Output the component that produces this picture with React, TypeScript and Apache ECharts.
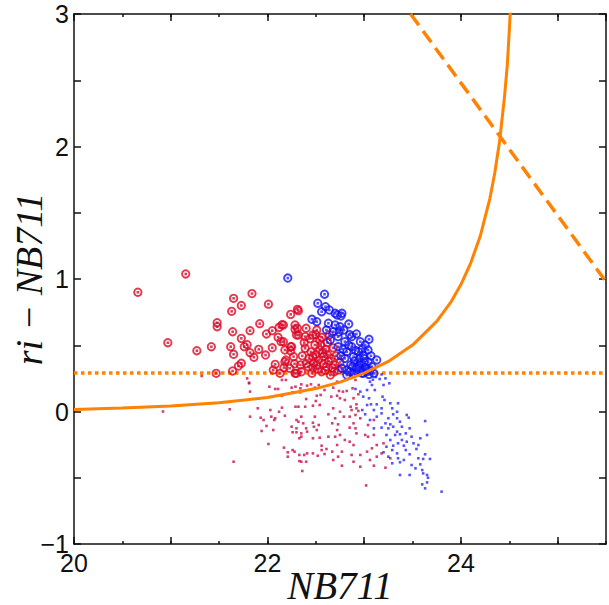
import React, { useEffect, useRef } from 'react';
import * as echarts from 'echarts';

const xMin = 20;
const xMax = 25.5;
const yMin = -1;
const yMax = 3;
const xLabelValues = [20, 22, 24];
const yLabelValues = [-1, 0, 1, 2, 3];
const xTitle = 'NB711';
const yTitle = 'ri \u2212 NB711';

const colorCut = 0.29;
const dashedCut: [number, number][] = [[23.48, 3], [25.5, 0.98]];
const limitCurve: [number, number][] = [
  [20, 0.016], [20.5, 0.026], [21, 0.041], [21.5, 0.066], [22, 0.106], [22.5, 0.173],
  [22.75, 0.222], [23, 0.289], [23.25, 0.378], [23.5, 0.501], [23.75, 0.68], [23.9, 0.83],
  [24, 0.958], [24.1, 1.118], [24.2, 1.324], [24.3, 1.609], [24.35, 1.8], [24.4, 2.04],
  [24.45, 2.369], [24.48, 2.62], [24.5, 2.872], [24.51, 3.012],
];

const redCircles: [number, number][] = [
  [20.66, 0.9], [21.155, 1.038], [21.84, 0.89], [21.65, 0.854], [21.73, 0.8], [22.01, 0.81],
  [21.63, 0.756], [22.24, 0.733], [22.31, 0.771], [21.48, 0.67], [21.48, 0.64], [21.92, 0.663],
  [22.15, 0.655], [22.12, 0.635], [22.285, 0.653], [22.285, 0.62], [21.64, 0.602], [21.82, 0.61],
  [21.99, 0.585], [22.05, 0.61], [22.11, 0.56], [22.3, 0.577], [21.73, 0.552], [22.14, 0.527],
  [20.97, 0.519], [21.42, 0.489], [21.27, 0.459], [21.62, 0.489], [21.65, 0.432], [21.76, 0.489],
  [21.79, 0.504], [21.82, 0.444], [21.91, 0.469], [21.86, 0.409], [21.98, 0.426], [22.05, 0.481],
  [22.24, 0.489], [22.24, 0.457], [22.19, 0.389], [21.73, 0.364], [21.7, 0.343], [22.08, 0.356],
  [22.06, 0.313], [22.17, 0.331], [21.47, 0.288], [21.64, 0.306], [22.13, 0.288], [22.3, 0.288],
  [22.32, 0.761], [22.165, 0.653], [22.31, 0.628], [22.4, 0.628], [22.32, 0.577], [22.39, 0.565],
  [22.47, 0.577], [22.165, 0.527], [22.25, 0.489], [22.39, 0.477], [22.49, 0.502], [22.54, 0.464],
  [22.47, 0.414], [22.58, 0.414], [22.66, 0.401], [22.27, 0.414], [22.18, 0.376], [22.34, 0.351],
  [22.42, 0.338], [22.51, 0.351], [22.61, 0.338], [22.7, 0.351], [22.73, 0.313], [22.56, 0.3],
  [22.46, 0.288], [22.285, 0.288], [22.65, 0.275], [22.23, 0.326], [22.18, 0.464], [22.54, 0.54],
  [22.51, 0.615], [22.45, 0.45], [22.5, 0.43], [22.55, 0.5], [22.6, 0.47], [22.62, 0.52],
  [22.48, 0.37], [22.53, 0.39], [22.58, 0.36], [22.63, 0.38], [22.67, 0.33], [22.52, 0.32],
  [22.57, 0.44], [22.43, 0.4], [22.47, 0.33], [22.6, 0.31], [22.69, 0.3], [22.62, 0.43],
  [22.44, 0.55], [22.5, 0.58], [22.56, 0.56], [22.36, 0.42], [22.4, 0.36], [22.35, 0.3],
  [22.38, 0.52], [22.28, 0.36], [22.71, 0.42], [22.68, 0.48], [22.75, 0.37], [22.64, 0.58],
];

const blueCircles: [number, number][] = [
  [22.21, 1.007], [22.59, 0.885], [22.52, 0.817], [22.6, 0.791], [22.64, 0.766], [22.56, 0.753],
  [22.7, 0.741], [22.77, 0.741], [22.76, 0.721], [22.72, 0.728], [22.51, 0.678], [22.46, 0.696],
  [22.63, 0.666], [22.7, 0.653], [22.75, 0.64], [22.84, 0.66], [22.61, 0.615], [22.68, 0.602],
  [22.79, 0.615], [22.92, 0.585], [22.87, 0.565], [23.05, 0.545], [22.73, 0.565], [22.65, 0.54],
  [22.8, 0.527], [22.96, 0.527], [23.01, 0.502], [22.87, 0.489], [22.73, 0.489], [23.04, 0.464],
  [22.82, 0.451], [22.94, 0.451], [23.13, 0.389], [22.99, 0.426], [22.89, 0.414], [22.8, 0.401],
  [23.04, 0.376], [22.96, 0.364], [22.86, 0.351], [22.92, 0.326], [23.01, 0.334], [23.08, 0.338],
  [22.82, 0.313], [22.77, 0.326], [22.98, 0.288], [22.89, 0.288], [23.02, 0.3], [22.82, 0.275],
  [23.1, 0.288], [22.9, 0.38], [22.95, 0.4], [23.0, 0.37], [22.94, 0.33], [22.97, 0.31],
  [23.03, 0.32], [23.06, 0.31], [22.93, 0.3], [22.85, 0.3], [22.88, 0.34], [22.91, 0.46],
  [22.84, 0.5], [22.78, 0.47], [22.76, 0.42], [22.98, 0.47], [23.07, 0.42], [22.85, 0.58],
  [22.74, 0.6], [22.95, 0.35], [23.0, 0.4], [22.99, 0.29], [23.05, 0.28], [22.9, 0.29],
];

const redDots: [number, number][] = [
  [21.81, 0.217], [21.82, 0.15], [22.02, 0.187], [22.08, 0.17], [22.11, 0.17], [22.15, 0.238],
  [22.19, 0.238], [22.25, 0.18], [22.29, 0.187], [22.34, 0.175], [22.35, 0.205], [22.41, 0.195],
  [22.45, 0.205], [22.49, 0.18], [22.53, 0.2], [22.26, 0.145], [22.34, 0.145], [22.15, 0.119],
  [22.4, 0.094], [22.51, 0.119], [22.55, 0.125], [22.59, 0.162], [22.5, 0.079], [22.54, 0.049],
  [21.61, 0.017], [21.9, 0.024], [22.03, 0.011], [22.15, 0.029], [22.29, 0.036], [22.32, 0.036],
  [22.39, 0.036], [22.47, 0.044], [21.82, -0.039], [21.93, -0.047], [21.96, -0.064], [22.04, -0.039],
  [22.08, -0.051], [22.07, -0.064], [22.12, -0.002], [22.18, -0.032], [22.3, -0.064], [22.35, -0.039],
  [22.49, -0.039], [22.63, -0.021], [21.99, -0.109], [21.94, -0.147], [22.06, -0.14], [22.25, -0.115],
  [22.3, -0.127], [22.32, -0.077], [22.37, -0.089], [22.26, -0.157], [22.3, -0.157], [22.35, -0.165],
  [22.41, -0.152], [22.4, -0.127], [22.48, -0.115], [22.47, -0.085], [22.53, -0.102], [22.51, -0.14],
  [22.54, -0.198], [22.47, -0.202], [22.33, -0.202], [22.35, -0.19], [22.63, -0.19], [22.01, -0.245],
  [22.17, -0.273], [22.26, -0.291], [22.28, -0.303], [22.21, -0.308], [22.33, -0.328], [22.38, -0.328],
  [22.41, -0.316], [22.47, -0.316], [22.52, -0.334], [22.56, -0.291], [22.56, -0.258], [22.61, -0.283],
  [22.59, -0.321], [22.21, -0.341], [22.33, -0.374], [22.35, -0.379], [22.4, -0.379], [21.65, -0.379],
  [22.36, -0.449], [22.68, 0.18], [22.74, 0.155], [22.78, 0.15], [22.82, 0.155], [22.66, 0.112],
  [22.72, 0.119], [22.75, 0.1], [22.8, 0.087], [22.88, 0.175], [22.89, 0.1], [22.92, 0.054],
  [22.86, 0.036], [22.94, 0.13], [22.87, 0.011], [22.92, 0.024], [22.94, 0.004], [22.91, -0.026],
  [22.96, -0.051], [22.85, -0.039], [22.68, 0.024], [22.75, -0.002], [22.7, -0.051], [22.79, -0.039],
  [22.67, -0.089], [22.73, -0.097], [22.89, -0.089], [22.85, -0.122], [22.91, -0.127], [22.72, -0.14],
  [22.75, -0.177], [22.7, -0.19], [22.92, -0.165], [23.01, -0.177], [23.04, -0.19], [23.1, -0.177],
  [22.8, -0.215], [22.85, -0.228], [22.89, -0.253], [22.72, -0.253], [22.77, -0.303], [22.67, -0.303],
  [22.73, -0.341], [22.87, -0.328], [22.96, -0.328], [23.03, -0.303], [23.08, -0.278], [23.13, -0.253],
  [23.2, -0.24], [23.18, -0.316], [23.13, -0.341], [23.27, -0.353], [23.06, -0.366], [22.89, -0.379],
  [22.68, -0.366], [22.77, -0.409], [22.96, -0.417], [23.1, -0.409], [23.22, -0.424], [23.02, -0.558],
  [23.1, -0.064], [23.04, -0.102], [22.91, 0.238], [22.72, 0.225], [21.79, 0.25], [21.81, 0.213],
  [21.32, 0.268], [20.92, 0.0],
];

const blueDots: [number, number][] = [
  [23.06, 0.225], [23.16, 0.245], [23.08, 0.2], [23.2, 0.2], [23.26, 0.213], [22.91, 0.17],
  [22.96, 0.15], [23.03, 0.162], [23.11, 0.162], [22.99, 0.112], [23.05, 0.1], [23.19, 0.112],
  [23.21, 0.087], [23.27, 0.062], [23.35, 0.062], [23.07, 0.054], [23.13, 0.054], [23.03, 0.049],
  [22.98, 0.011], [23.1, 0.011], [23.18, 0.024], [23.29, 0.024], [23.18, -0.014], [23.3, -0.021],
  [23.34, -0.002], [23.01, -0.021], [23.13, -0.039], [23.44, -0.026], [23.46, -0.047], [23.06, -0.064],
  [23.25, -0.051], [23.34, -0.051], [23.37, -0.077], [23.22, -0.089], [23.27, -0.097], [23.63, -0.072],
  [23.1, -0.127], [23.18, -0.122], [23.25, -0.127], [23.3, -0.115], [23.39, -0.115], [23.47, -0.127],
  [23.34, -0.152], [23.43, -0.165], [23.23, -0.177], [23.32, -0.177], [23.37, -0.172], [23.49, -0.19],
  [23.58, -0.202], [23.65, -0.177], [23.27, -0.215], [23.39, -0.215], [23.44, -0.228], [23.35, -0.24],
  [23.51, -0.24], [23.56, -0.253], [23.3, -0.258], [23.41, -0.258], [23.23, -0.266], [23.29, -0.291],
  [23.43, -0.291], [23.54, -0.283], [23.2, -0.308], [23.34, -0.316], [23.47, -0.323], [23.63, -0.323],
  [23.25, -0.341], [23.35, -0.353], [23.41, -0.366], [23.56, -0.353], [23.61, -0.358], [23.68, -0.358],
  [23.29, -0.391], [23.37, -0.383], [23.49, -0.404], [23.58, -0.399], [23.53, -0.429], [23.6, -0.442],
  [23.65, -0.479], [23.37, -0.479], [23.47, -0.479], [23.61, -0.467], [23.66, -0.5], [23.65, -0.535],
  [23.6, -0.55], [23.63, -0.58], [23.8, -0.605], [23.12, 0.26], [23.18, 0.28], [23.22, 0.25],
  [23.09, 0.24],
];

const ORANGE = '#FF8200';
const RED = '#E0061E';
const BLUE = '#1010F2';
const RED_DOT = '#C8104E';
const BLUE_DOT = '#2A2AF5';
const AXIS = '#111';

function fmtNum(v: number): string {
  return v < 0 ? '\u2212' + Math.abs(v) : String(v);
}
function near(v: number, list: number[]): number | null {
  for (const t of list) if (Math.abs(v - t) < 1e-6) return t;
  return null;
}

export default function App() {
  const ref = useRef<HTMLDivElement>(null);
  useEffect(() => {
    if (!ref.current) return;
    const chart = echarts.init(ref.current, undefined, { renderer: 'svg' });
    const lineStyle = { color: AXIS, width: 1.5 };
    const xBase = (position: string, interval: number, tickLen: number, showLine: boolean, labels: boolean) => ({
      type: 'value',
      position,
      min: xMin,
      max: xMax,
      interval,
      axisLine: { show: showLine, onZero: false, lineStyle },
      axisTick: { show: true, inside: true, length: tickLen, lineStyle },
      splitLine: { show: false },
      axisLabel: labels
        ? {
            show: true,
            margin: 6,
            fontSize: 25,
            fontFamily: 'Liberation Sans, Arial, sans-serif',
            color: AXIS,
            showMaxLabel: false,
            formatter: (v: number) => {
              const t = near(v, xLabelValues);
              return t === null ? '' : fmtNum(t);
            },
          }
        : { show: false },
    });
    const yBase = (position: string, labels: boolean) => ({
      type: 'value',
      position,
      min: yMin,
      max: yMax,
      interval: 0.5,
      axisLine: { show: true, onZero: false, lineStyle },
      axisTick: { show: true, inside: true, length: 7, lineStyle },
      splitLine: { show: false },
      axisLabel: labels
        ? {
            show: true,
            margin: 5,
            fontSize: 25,
            fontFamily: 'Liberation Sans, Arial, sans-serif',
            color: AXIS,
            formatter: (v: number) => {
              const t = near(v, yLabelValues);
              return t === null ? '' : fmtNum(t);
            },
          }
        : { show: false },
    });
    const titleStyle = {
      fontFamily: 'Liberation Serif, Times New Roman, serif',
      fontStyle: 'italic',
      fontSize: 38,
      color: AXIS,
    };
    const xAxes: any[] = [
      {
        ...xBase('bottom', 1, 7, true, true),
        name: xTitle,
        nameLocation: 'middle',
        nameGap: 26,
        nameMoveOverlap: false,
        nameTextStyle: { ...titleStyle, fontSize: 39, lineHeight: 30 },
      },
      xBase('bottom', 0.5, 3, false, false),
      xBase('top', 1, 7, true, false),
      xBase('top', 0.5, 3, false, false),
    ];
    const yAxes: any[] = [
      {
        ...yBase('left', true),
        name: yTitle,
        nameLocation: 'middle',
        nameGap: 26,
        nameRotate: 90,
        nameMoveOverlap: false,
        nameTextStyle: titleStyle,
      },
      yBase('right', false),
    ];
    const dotSeries = (name: string, data: [number, number][], color: string, z: number) => ({
      name,
      type: 'scatter',
      data,
      symbol: 'rect',
      symbolSize: 2.6,
      itemStyle: { color },
      z,
      silent: true,
    });
    const ringSeries = (name: string, data: [number, number][], color: string, z: number) => ({
      name,
      type: 'scatter',
      data,
      symbol: 'circle',
      symbolSize: 7.4,
      itemStyle: { color: 'rgba(0,0,0,0)', borderColor: color, borderWidth: 1.9 },
      z,
      silent: true,
    });
    chart.setOption({
      animation: false,
      backgroundColor: '#fff',
      grid: { left: 74, right: 3, top: 14, bottom: 61, containLabel: false, outerBoundsMode: 'none' },
      xAxis: xAxes,
      yAxis: yAxes,
      series: [
        {
          name: 'colour cut',
          type: 'line',
          data: [[xMin, colorCut], [xMax, colorCut]],
          showSymbol: false,
          lineStyle: { color: ORANGE, width: 3.5, type: [3.5, 3.5], cap: 'butt' },
          z: 1,
          silent: true,
        },
        dotSeries('red dots', redDots, RED_DOT, 2),
        dotSeries('blue dots', blueDots, BLUE_DOT, 2),
        ringSeries('red circles', redCircles, RED, 3),
        dotSeries('red centres', redCircles, RED_DOT, 3),
        ringSeries('blue circles', blueCircles, BLUE, 4),
        dotSeries('blue centres', blueCircles, BLUE_DOT, 4),
        {
          name: 'limit',
          type: 'line',
          data: limitCurve,
          showSymbol: false,
          smooth: false,
          lineStyle: { color: ORANGE, width: 3 },
          z: 6,
          silent: true,
        },
        {
          name: 'dashed',
          type: 'line',
          data: dashedCut,
          showSymbol: false,
          lineStyle: { color: ORANGE, width: 3.5, type: [14, 7], cap: 'butt' },
          z: 6,
          silent: true,
        },
      ],
    });
    return () => chart.dispose();
  }, []);
  return (
    <div
      ref={ref}
      style={{ position: 'absolute', left: 0, top: 0, width: 609, height: 605, background: '#fff' }}
    />
  );
}
